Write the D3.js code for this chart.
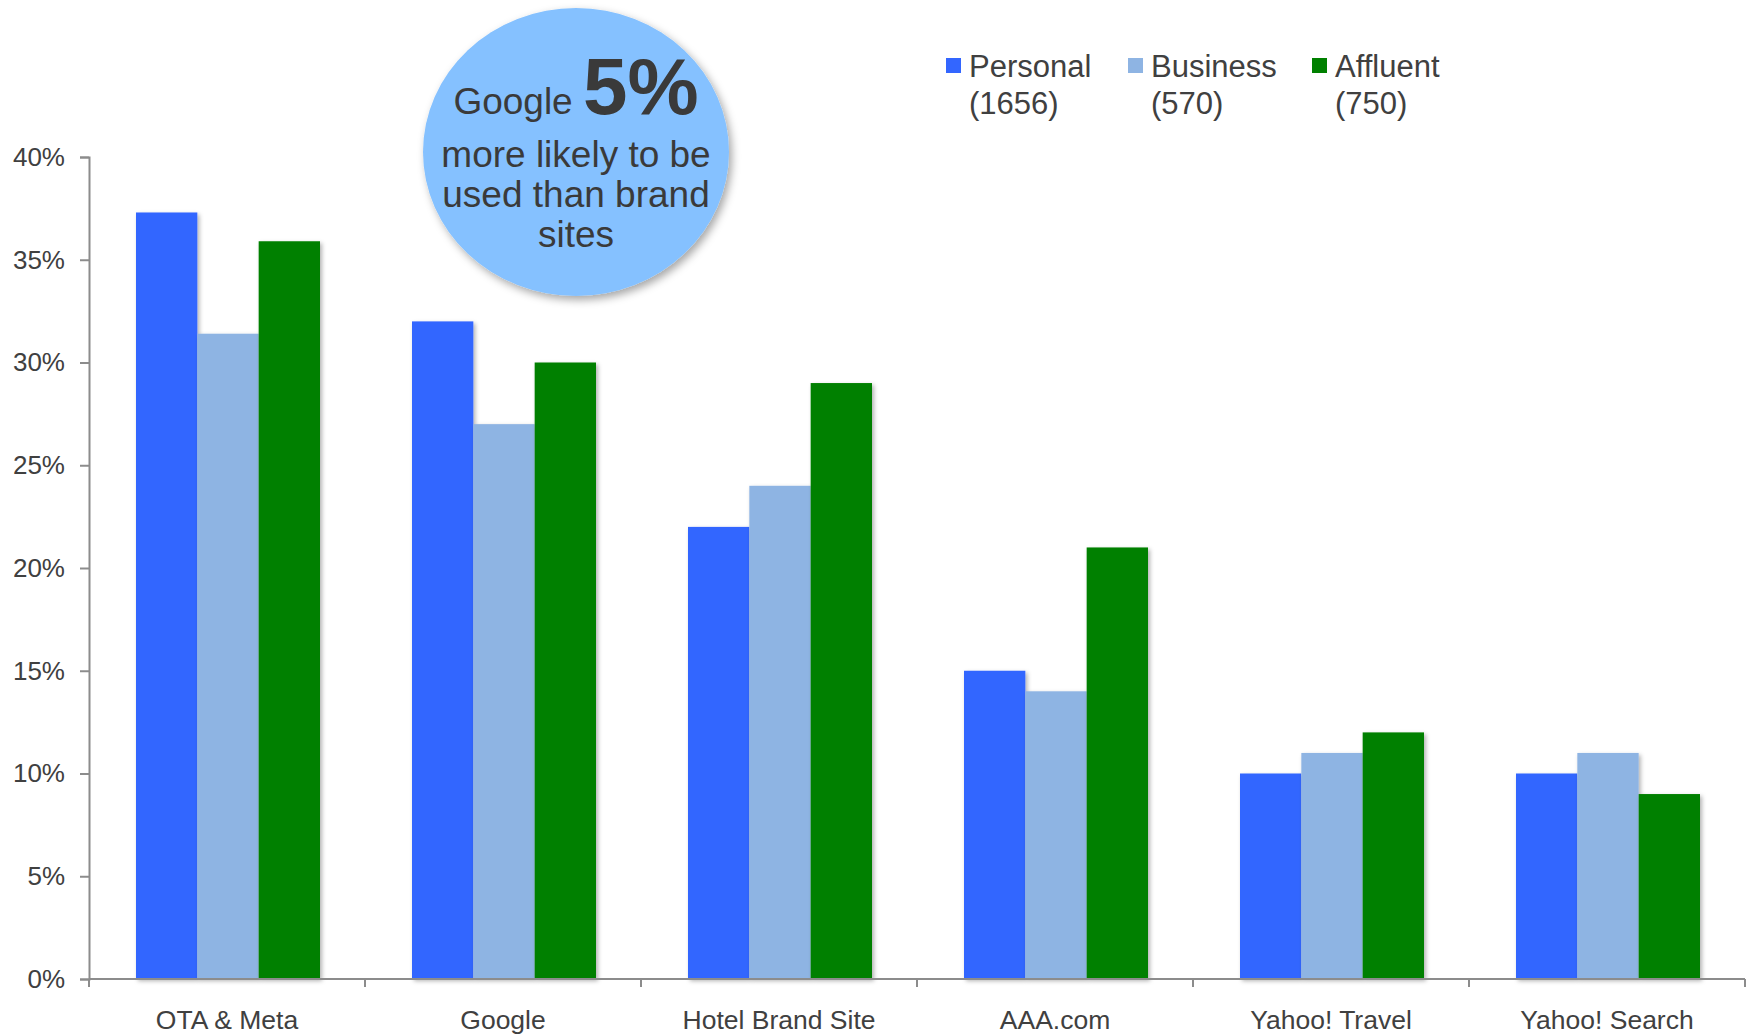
<!DOCTYPE html>
<html>
<head>
<meta charset="utf-8">
<script src="https://cdn.jsdelivr.net/npm/d3@7"></script>
<style>
  body { margin: 0; background: #fff; }
  svg { font-family: "Liberation Sans", Arial, sans-serif; }
  .axis path, .axis line { stroke: #8c8c8c; stroke-width: 2px; }
  .axis text { fill: #404040; }
</style>
</head>
<body>
<svg id="chart" width="1751" height="1035"></svg>
<script>
var categories = ['OTA & Meta', 'Google', 'Hotel Brand Site', 'AAA.com', 'Yahoo! Travel', 'Yahoo! Search'];
var seriesNames = ['Personal', 'Business', 'Affluent'];
var seriesCounts = ['(1656)', '(570)', '(750)'];
var seriesColors = ['#3366ff', '#8eb4e3', '#008000'];
var personal = [37.3, 32.0, 22.0, 15.0, 10.0, 10.0];
var business = [31.4, 27.0, 24.0, 14.0, 11.0, 11.0];
var affluent = [35.9, 30.0, 29.0, 21.0, 12.0, 9.0];
var yTicks = [0, 5, 10, 15, 20, 25, 30, 35, 40];

var svg = d3.select('#chart');
var margin = {l: 89, r: 6, t: 157, b: 55};
var W = 1751, H = 1035;

var x0 = d3.scaleBand().domain(categories).range([margin.l, W - margin.r]).padding(0);
var x1 = d3.scaleBand().domain(seriesNames).range([0, x0.bandwidth()]).paddingInner(0).paddingOuter(0.75);
var y = d3.scaleLinear().domain([0, 40]).range([H - margin.b - 1, margin.t]);

var defs = svg.append('defs');
var f = defs.append('filter').attr('id', 'shadow').attr('x', '-20%').attr('y', '-5%').attr('width', '140%').attr('height', '110%');
f.append('feDropShadow').attr('dx', 2).attr('dy', 2).attr('stdDeviation', 2).attr('flood-color', '#000').attr('flood-opacity', 0.3);
var fb = defs.append('filter').attr('id', 'bshadow').attr('x', '-20%').attr('y', '-20%').attr('width', '140%').attr('height', '140%');
fb.append('feDropShadow').attr('dx', 3).attr('dy', 4).attr('stdDeviation', 4).attr('flood-color', '#000').attr('flood-opacity', 0.35);

// bars
var rows = categories.map(function (c, i) {
    return {cat: c, vals: [personal[i], business[i], affluent[i]]};
});
var groups = svg.selectAll('.cat')
    .data(rows)
    .enter()
    .append('g')
    .attr('class', 'cat')
    .attr('transform', function (d) { return 'translate(' + [x0(d.cat) + 1, 0] + ')'; });

groups.selectAll('rect')
    .data(function (d) { return d.vals.map(function (v, k) { return {s: seriesNames[k], v: v, k: k}; }); })
    .enter()
    .append('rect')
    .attr('x', function (d) { return x1(d.s); })
    .attr('y', function (d) { return y(d.v); })
    .attr('width', x1.bandwidth())
    .attr('height', function (d) { return y(0) - y(d.v); })
    .attr('fill', function (d) { return seriesColors[d.k]; })
    .attr('filter', 'url(#shadow)');

// y axis
var yAxis = svg.append('g')
    .attr('class', 'axis')
    .attr('transform', 'translate(' + margin.l + ',0)')
    .call(d3.axisLeft(y).tickValues(yTicks).tickSize(9).tickPadding(15).tickFormat(function (d) { return d + '%'; }));
yAxis.selectAll('text').style('font-size', '26px');

// x axis
var xAxis = svg.append('g')
    .attr('class', 'axis')
    .attr('transform', 'translate(0,' + y(0) + ')')
    .call(d3.axisBottom(x0).tickSize(0).tickPadding(31));
xAxis.selectAll('text').style('font-size', '26.5px');
xAxis.selectAll('.tick-sep')
    .data(d3.range(categories.length + 1))
    .enter()
    .append('line')
    .attr('class', 'tick-sep')
    .attr('x1', function (i) { return margin.l + i * x0.step(); })
    .attr('x2', function (i) { return margin.l + i * x0.step(); })
    .attr('y1', 0)
    .attr('y2', 8);
xAxis.select('.domain').attr('d', 'M' + margin.l + ',0H' + (W - margin.r));

// legend
var legX = [946, 1128, 1312];
var leg = svg.selectAll('.leg')
    .data(seriesNames)
    .enter()
    .append('g')
    .attr('class', 'leg')
    .attr('transform', function (d, i) { return 'translate(' + [legX[i], 58] + ')'; });
leg.append('rect')
    .attr('width', 15).attr('height', 15)
    .attr('fill', function (d, i) { return seriesColors[i]; });
leg.append('text')
    .attr('x', 23).attr('y', 19)
    .style('font-size', '31px').style('fill', '#404040')
    .text(function (d) { return d; });
leg.append('text')
    .attr('x', 23).attr('y', 56)
    .style('font-size', '31px').style('fill', '#404040')
    .text(function (d, i) { return seriesCounts[i]; });

// callout bubble
var bub = svg.append('g').attr('transform', 'translate(576,152)');
bub.append('ellipse')
    .attr('rx', 153).attr('ry', 144)
    .attr('fill', '#85c1ff')
    .attr('filter', 'url(#bshadow)');
var t1 = bub.append('text')
    .attr('text-anchor', 'middle')
    .attr('y', -38)
    .style('fill', '#3a3a3a');
t1.append('tspan').style('font-size', '37px').text('Google ');
t1.append('tspan').style('font-size', '80px').style('font-weight', 'bold').text('5%');
var lines = ['more likely to be', 'used than brand', 'sites'];
bub.selectAll('.bl')
    .data(lines)
    .enter()
    .append('text')
    .attr('class', 'bl')
    .attr('text-anchor', 'middle')
    .attr('y', function (d, i) { return 15 + i * 40; })
    .style('font-size', '37px')
    .style('fill', '#3a3a3a')
    .text(function (d) { return d; });
</script>
</body>
</html>
